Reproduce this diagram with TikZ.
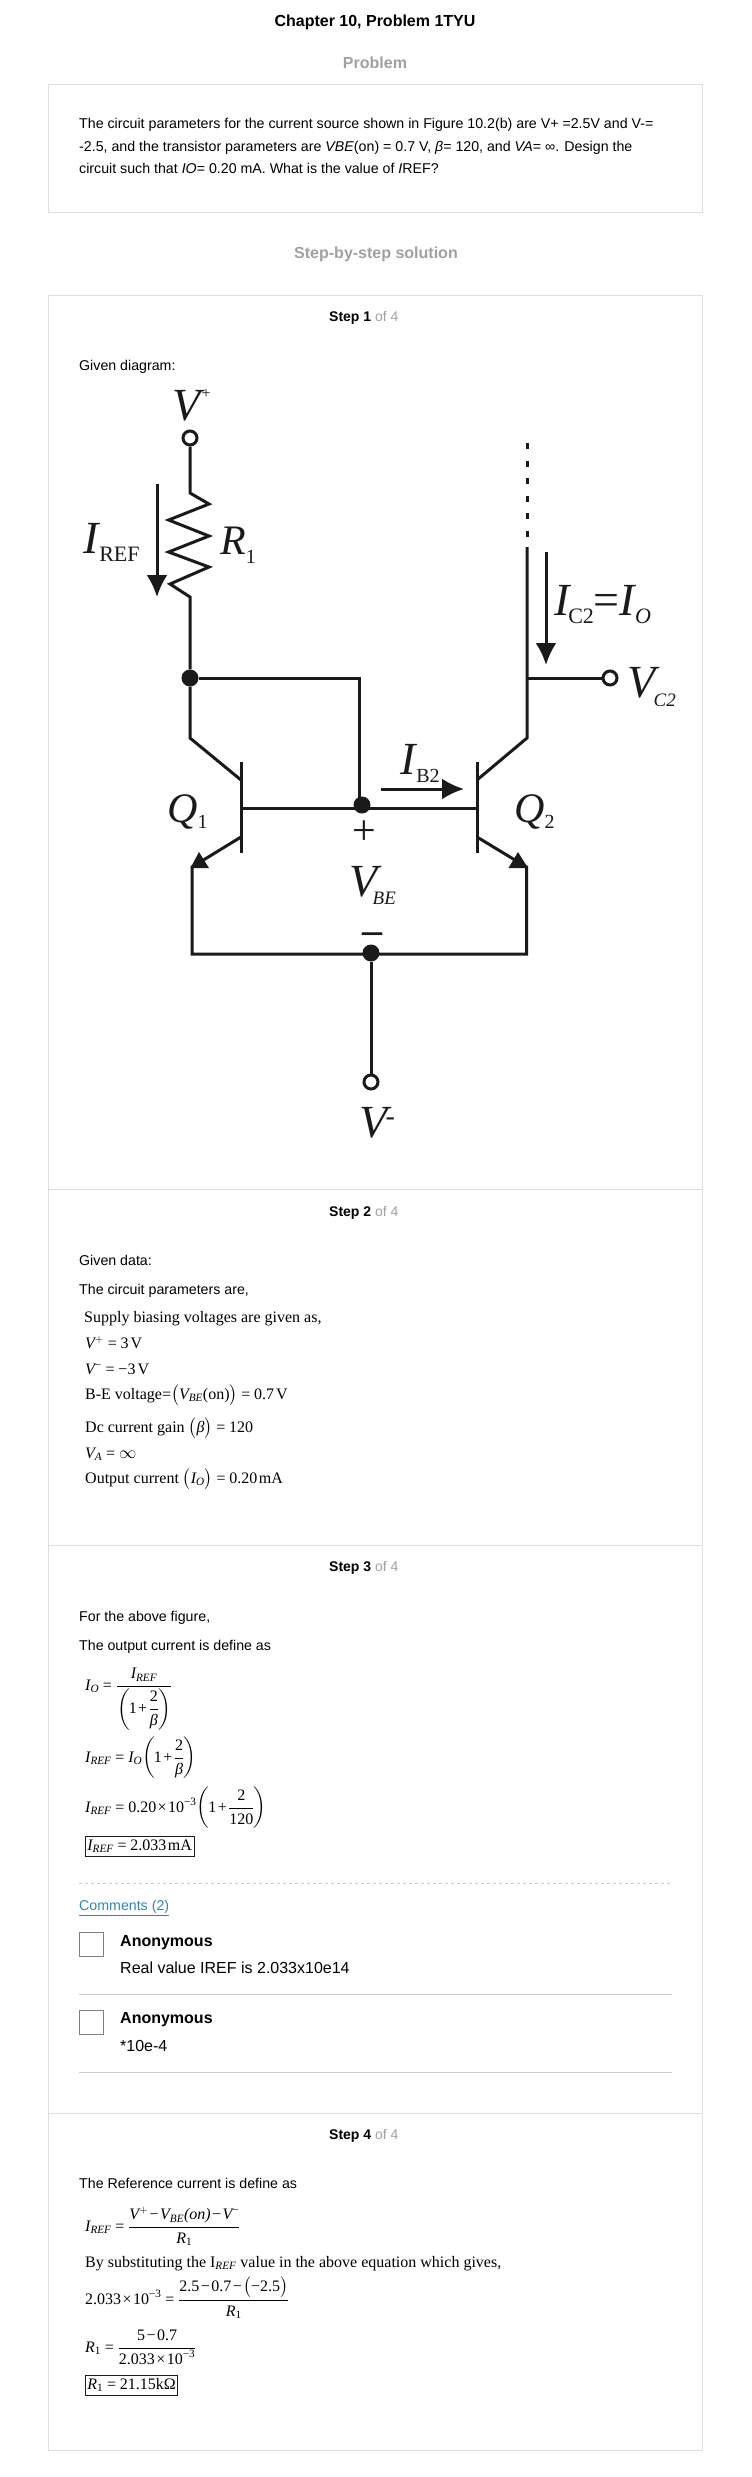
\documentclass[tikz,border=0pt]{standalone}
\usepackage{amsmath}
\usepackage{fontspec}
\setmainfont{Liberation Serif}
\newfontfamily\arialfont{Liberation Sans}
\usepackage{tikz}
\usetikzlibrary{arrows.meta}
\definecolor{ink}{HTML}{1A1A1A}
\definecolor{frame}{HTML}{DEDEDE}
\definecolor{rulegray}{HTML}{CCCCCC}
\definecolor{headgray}{HTML}{A0A0A0}
\definecolor{linkblue}{HTML}{2B86B5}
\newcommand{\ivar}[1]{\textit{#1}}
\newcommand{\IREF}{\ivar{I}_{\ivar{REF}}}
\newcommand{\meq}{\mathrel{\text{=}}}
\newcommand{\mplus}{\mathbin{\text{+}}}
\newcommand{\mminus}{\mathbin{\text{−}}}
\newcommand{\mtimes}{\mathbin{\text{×}}}
\newcommand{\sizedfont}[1]{\fontsize{#1}{#1}\selectfont}
\newcommand{\sublab}[2]{\raisebox{#1}{\sizedfont{22}#2}}
\newcommand{\tightmath}{\thickmuskip=4mu \medmuskip=1.5mu \thinmuskip=1mu}

\begin{document}
\begin{tikzpicture}[
    x=1pt, y=-1pt,
    txt/.style={anchor=mid west, inner sep=0pt, yshift=-3pt, font=\arialfont\sizedfont{14.2}},
    steplab/.style={anchor=mid west, inner sep=0pt, yshift=-3pt, font=\arialfont\sizedfont{14}},
    headlab/.style={anchor=mid, inner sep=0pt, yshift=-3pt, text=headgray, font=\arialfont\bfseries\sizedfont{16}},
    eqn/.style={anchor=mid west, inner sep=0pt, yshift=-3pt, font=\sizedfont{16}\tightmath},
    boxedeqn/.style={eqn, draw=ink, line width=0.8pt, inner xsep=2pt, inner ysep=3pt},
    cmt/.style={anchor=mid west, inner sep=0pt, yshift=-3pt, font=\arialfont\sizedfont{16}},
    avatar/.style={draw=gray, minimum width=23.5pt, minimum height=24pt, inner sep=0pt},
    panel/.style={draw=frame, line width=1pt},
    wire/.style={draw=ink, line width=3pt},
    dotnode/.style={circle, fill=ink, inner sep=0pt, minimum size=17pt},
    termnode/.style={circle, draw=ink, fill=white, line width=3pt, inner sep=0pt, minimum size=14pt},
    clab/.style={anchor=base west, inner sep=0pt, text=ink, font=\sizedfont{46}},
    bigtip/.style={-{Latex[length=22pt, width=21pt]}, draw=ink, line width=3pt}
]
  \useasboundingbox (0,0) rectangle (752,2477);

  % Page frames
  \draw[panel] (48.5,84.5) rectangle (702.5,212);
  \draw[panel] (48.5,295) rectangle (702.5,2450);
  \draw[panel] (48.5,1189) -- (702.5,1189);
  \draw[panel] (48.5,1545) -- (702.5,1545);
  \draw[panel] (48.5,2113) -- (702.5,2113);

  % Headings and problem text
  \node[headlab, text=black] (title) at (375,21) {Chapter 10, Problem 1TYU};
  \node[headlab] (probhead) at (375,63) {Problem};
  \node[txt] (probA) at (79,123) {The circuit parameters for the current source shown in Figure 10.2(b) are V+ =2.5V and V-=};
  \node[txt] (probB) at (79,146) {-2.5, and the transistor parameters are \textit{VBE}(on) = 0.7 V, \textit{β}= 120, and \textit{VA}= ∞. Design the};
  \node[txt] (probC) at (79,168) {circuit such that \textit{IO}= 0.20 mA. What is the value of \textit{I}REF?};
  \node[headlab] (solhead) at (376,253) {Step-by-step solution};

  % Step 1
  \node[steplab] (stepA) at (329,316) {\textbf{Step 1} \textcolor{headgray}{of 4}};
  \node[txt] (given) at (79,365) {Given diagram:};

  % Circuit points
  \coordinate (rtop) at (190,493);
  \coordinate (ra) at (209,504);
  \coordinate (rb) at (168.6,520);
  \coordinate (rc) at (209,536);
  \coordinate (rd) at (168.6,552);
  \coordinate (re) at (209,567);
  \coordinate (rf) at (170,584);
  \coordinate (rbot) at (190,597);
  \coordinate (qcornerL) at (190,738);
  \coordinate (qcornerR) at (527,738);
  \coordinate (collL) at (241,780);
  \coordinate (collR) at (477,780);
  \coordinate (emitL) at (241,837);
  \coordinate (emitR) at (477,837);
  \coordinate (barLt) at (241,762);
  \coordinate (barLb) at (241,853);
  \coordinate (barRt) at (477,762);
  \coordinate (barRb) at (477,853);
  \coordinate (baseL) at (241,808);
  \coordinate (baseR) at (477,808);
  \coordinate (footL) at (192,867);
  \coordinate (footR) at (526.5,867);
  \coordinate (cornL) at (192,954);
  \coordinate (cornR) at (526.5,954);
  \coordinate (shortTop) at (359,678);
  \coordinate (shortBot) at (359,808);
  \coordinate (dashTop) at (527,443);
  \coordinate (dashBot) at (527,540);
  \coordinate (collTop) at (527,547);
  \coordinate (branch) at (527,678);

  % Wires
  \node[termnode, draw=none, fill=none] (vplus) at (190,438) {};
  \node[dotnode] (topjn) at (190,678) {};
  \node[dotnode] (basejn) at (362,805) {};
  \node[dotnode] (lowjn) at (371,953) {};
  \node[termnode, draw=none, fill=none] (vcout) at (610,678) {};
  \node[termnode, draw=none, fill=none] (vminus) at (371,1082) {};
  \draw[wire, line join=miter] (vplus) -- (rtop) -- (ra) -- (rb) -- (rc) -- (rd) -- (re) -- (rf) -- (rbot) -- (topjn);
  \draw[wire] (topjn) -- (qcornerL) -- (collL);
  \draw[wire] (topjn) -- (shortTop) -- (shortBot);
  \draw[wire] (barLt) -- (barLb);
  \draw[wire] (barRt) -- (barRb);
  \draw[wire] (baseL) -- (baseR);
  \draw[wire] (collTop) -- (qcornerR) -- (collR);
  \draw[wire] (branch) -- (vcout);
  \draw[wire, dash pattern=on 6pt off 11.5pt] (dashTop) -- (dashBot);
  \draw[wire] (emitL) -- (footL) -- (cornL) -- (cornR) -- (footR) -- (emitR);
  \draw[wire] (lowjn) -- (vminus);
  \fill[ink] (199,852) -- (209,868) -- (190.5,868) -- cycle;
  \fill[ink] (518,852) -- (508.5,868) -- (528,868) -- cycle;
  \node[termnode] at (vplus) (vplusring) {};
  \node[termnode] at (vcout) (vcring) {};
  \node[termnode] at (vminus) (vminusring) {};

  % Current arrows
  \coordinate (irefTop) at (157,484);
  \coordinate (irefTip) at (157,597);
  \coordinate (icTop) at (546,552);
  \coordinate (icTip) at (546,665);
  \coordinate (ibTail) at (381,789);
  \coordinate (ibTip) at (464,789);
  \draw[bigtip] (irefTop) -- (irefTip);
  \draw[bigtip] (icTop) -- (icTip);
  \draw[bigtip] (ibTail) -- (ibTip);

  % Circuit labels
  \node[clab] (lvplus) at (172,420) {\textit{V}\kern-3pt\raisebox{22pt}{\sizedfont{16}+}};
  \node[clab] (liref) at (83,553) {\textit{I}\kern-1pt\sublab{-8pt}{REF}};
  \node[clab, font=\sizedfont{42}] (lrone) at (220,554) {\textit{R}\raisebox{-9pt}{\sizedfont{20}1}};
  \node[clab] (lic) at (554,615) {\textit{I}\kern-3pt\sublab{-8pt}{C2}=\textit{I}\kern-2pt\sublab{-8pt}{\textit{O}}};
  \node[clab] (lvc) at (627,697) {\textit{V}\kern-6pt\raisebox{-9pt}{\sizedfont{19}\textit{C2}}};
  \node[clab] (lib) at (400,774) {\textit{I}\kern-1pt\raisebox{-8pt}{\sizedfont{20}B2}};
  \node[clab, font=\sizedfont{42}] (lqone) at (167,822) {\textit{Q}\raisebox{-6pt}{\sizedfont{20}1}};
  \node[clab, font=\sizedfont{42}] (lqtwo) at (514,822) {\textit{Q}\raisebox{-6pt}{\sizedfont{20}2}};
  \node[clab] (lvbe) at (349,896) {\textit{V}\kern-9pt\raisebox{-8pt}{\sizedfont{19}\textit{BE}}};
  \node[clab] (lvminus) at (359,1137) {\textit{V}\kern-6pt\raisebox{12pt}{\sizedfont{28}-}};
  \node[anchor=mid, inner sep=0pt, text=ink, font=\sizedfont{42}] (lplus) at (364,842) {+};
  \node[anchor=mid, inner sep=0pt, text=ink, font=\bfseries\sizedfont{40}] (lminus) at (372,941) {–};

  % Step 2
  \node[steplab] (stepB) at (329,1211) {\textbf{Step 2} \textcolor{headgray}{of 4}};
  \node[txt] (dataA) at (79,1260) {Given data:};
  \node[txt] (dataB) at (79,1289) {The circuit parameters are,};
  \node[eqn] (dataC) at (84,1317) {Supply biasing voltages are given as,};
  \node[eqn] (dataD) at (85,1343) {$\ivar{V}^{+}\meq\text{3\kern2pt V}$};
  \node[eqn] (dataE) at (85,1369) {$\ivar{V}^{\mminus}\meq\mminus\text{3\kern2pt V}$};
  \node[eqn] (dataF) at (85,1394) {B-E voltage=$\bigl(\ivar{V}_{\ivar{BE}}\text{(on)}\bigr)\meq\text{0.7\kern2pt V}$};
  \node[eqn] (dataG) at (85,1427) {Dc current gain $\bigl(\ivar{β}\bigr)\meq\text{120}$};
  \node[eqn] (dataH) at (85,1453) {$\ivar{V}_{\ivar{A}}\meq\infty$};
  \node[eqn] (dataI) at (85,1478) {Output current $\bigl(\ivar{I}_{\ivar{O}}\bigr)\meq\text{0.20\kern1.5pt mA}$};

  % Step 3
  \node[steplab] (stepC) at (329,1566) {\textbf{Step 3} \textcolor{headgray}{of 4}};
  \node[txt] (outA) at (79,1616) {For the above figure,};
  \node[txt] (outB) at (79,1645) {The output current is define as};
  \node[eqn] (outC) at (85,1685) {$\ivar{I}_{\ivar{O}}\meq\dfrac{\IREF}{\left(\!\text{1}\mplus\dfrac{\text{2}}{\ivar{β}}\!\right)}$};
  \node[eqn] (outD) at (85,1757) {$\IREF\meq\ivar{I}_{\ivar{O}}\!\left(\!\text{1}\mplus\dfrac{\text{2}}{\ivar{β}}\!\right)$};
  \node[eqn] (outE) at (85,1807) {$\IREF\meq\text{0.20}\mtimes\text{10}^{\mminus\text{3}}\!\left(\!\text{1}\mplus\dfrac{\text{2}}{\text{120}}\!\right)$};
  \node[boxedeqn] (outF) at (85,1845) {$\IREF\meq\text{2.033\kern1.5pt mA}$};

  % Comments
  \draw[rulegray, dashed] (79,1883) -- (672,1883);
  \node[txt, text=linkblue] (comments) at (79,1905) {\underline{Comments (2)}};
  \node[avatar, anchor=north west] (avatarA) at (79,1932) {};
  \node[cmt, font=\arialfont\bfseries\sizedfont{16}] (nameA) at (120,1941) {Anonymous};
  \node[cmt] (textA) at (120,1968) {Real value IREF is 2.033x10e14};
  \draw[rulegray, line width=1pt] (79,1994) -- (672,1994);
  \node[avatar, anchor=north west] (avatarB) at (79,2010) {};
  \node[cmt, font=\arialfont\bfseries\sizedfont{16}] (nameB) at (120,2018) {Anonymous};
  \node[cmt] (textB) at (120,2046) {*10e-4};
  \draw[rulegray, line width=1pt] (79,2072) -- (672,2072);

  % Step 4
  \node[steplab] (stepD) at (329,2134) {\textbf{Step 4} \textcolor{headgray}{of 4}};
  \node[txt] (refA) at (79,2183) {The Reference current is define as};
  \node[eqn] (refB) at (85,2226) {$\IREF\meq\dfrac{\ivar{V}^{+}\mminus\ivar{V}_{\ivar{BE}}\ivar{(on)}\mminus\ivar{V}^{\mminus}}{\ivar{R}_{\text{1}}}$};
  \node[eqn] (refC) at (85,2262) {By substituting the I$_{\ivar{REF}}$ value in the above equation which gives,};
  \node[eqn] (refD) at (85,2299) {$\text{2.033}\mtimes\text{10}^{\mminus\text{3}}\meq\dfrac{\text{2.5}\mminus\text{0.7}\mminus\bigl(\mminus\text{2.5}\bigr)}{\ivar{R}_{\text{1}}}$};
  \node[eqn] (refE) at (85,2347) {$\ivar{R}_{\text{1}}\meq\dfrac{\text{5}\mminus\text{0.7}}{\text{2.033}\mtimes\text{10}^{\mminus\text{3}}}$};
  \node[boxedeqn] (refF) at (85,2384) {$\ivar{R}_{\text{1}}\meq\text{21.15kΩ}$};
\end{tikzpicture}
\end{document}
